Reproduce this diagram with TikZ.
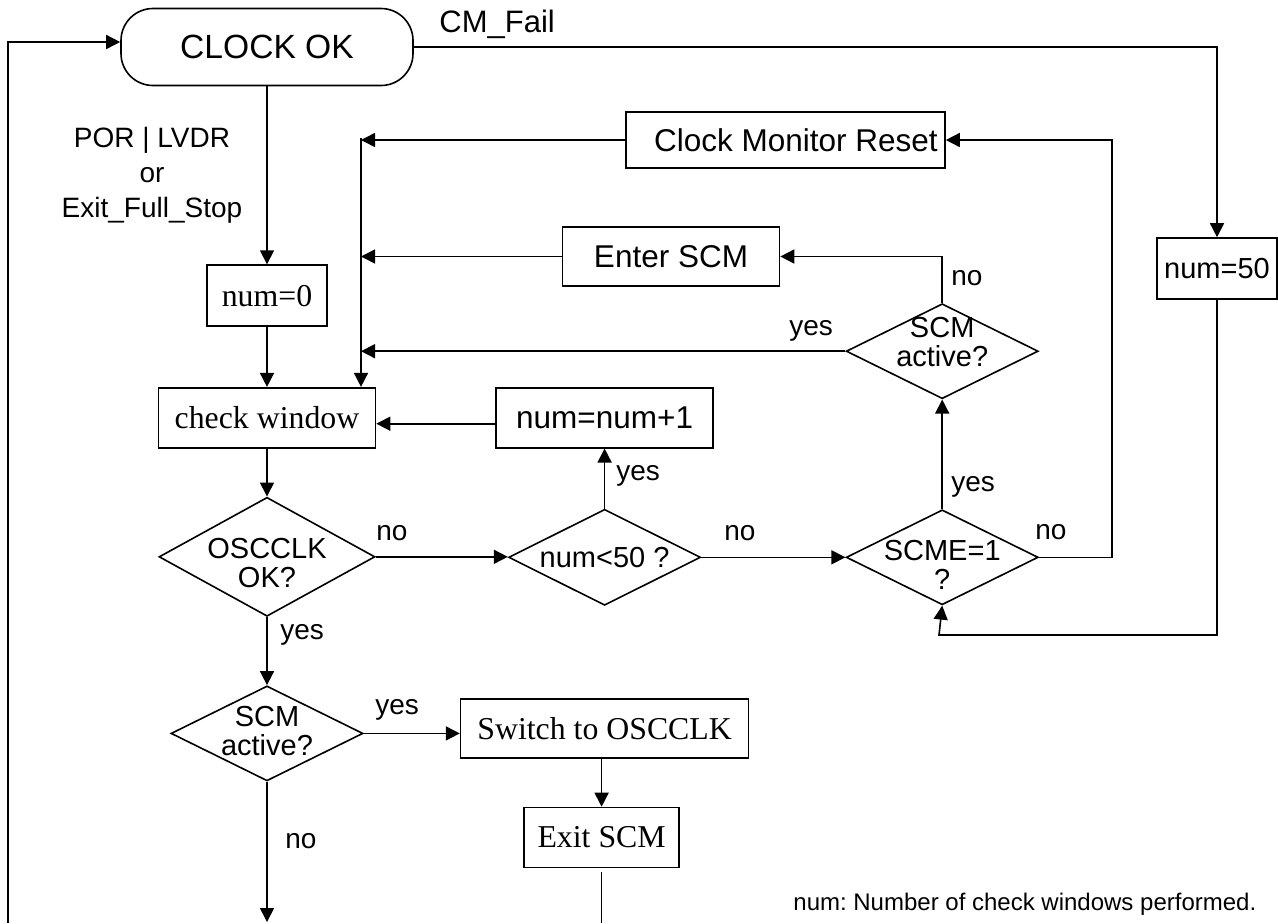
\documentclass[tikz,border=0pt]{standalone}
\usepackage{fontspec}
\setmainfont{Liberation Serif}
\setsansfont{Liberation Sans}
\usetikzlibrary{arrows.meta,positioning,shapes.geometric}

\begin{document}
\begin{tikzpicture}[x=.5pt, y=-.5pt,
    term/.style={draw, line width=.8pt, rounded corners=16pt, minimum width=146pt,
      minimum height=38.5pt, inner sep=0pt, font=\sffamily\fontsize{16.8}{18}\selectfont},
    sbox/.style={draw, line width=.8pt, inner sep=2pt, minimum width=108.5pt,
      minimum height=30pt, font=\sffamily\fontsize{15.75}{18}\selectfont},
    rbox/.style={sbox, font=\rmfamily\fontsize{15.9}{18}\selectfont},
    decision/.style={diamond, draw, line width=.8pt, inner sep=0pt,
      minimum width=96pt, minimum height=47.5pt},
    dtxt/.style={align=center, inner sep=0pt, font=\sffamily\fontsize{14.5}{14.5}\selectfont},
    lbl/.style={anchor=base west, inner sep=0pt, font=\sffamily\fontsize{14}{16}\selectfont},
    arrow/.style={-{Triangle[length=7pt, width=7pt]}, line width=.8pt},
    link/.style={line width=.8pt}
  ]
  \useasboundingbox (0,0) rectangle (1278,923);

  % main column
  \node[term] (clock) at (267,47) {CLOCK OK};
  \node[rbox, minimum width=60pt, minimum height=30.5pt, below=89pt of clock] (num0) {num=0};
  \node[rbox, below=30pt of num0] (check) {check window};
  \node[decision, minimum width=108pt, minimum height=59.5pt, below=24pt of check,
    label={[dtxt, yshift=-3pt]center:OSCCLK\\OK?}] (osc) {};
  \node[decision, below=34pt of osc, label={[dtxt, yshift=1pt]center:SCM\\active?}] (scm2) {};

  % retry loop
  \node[sbox, right=59.5pt of check] (inc) {num=num+1};
  \node[decision, minimum height=48pt, below=30pt of inc, label={[dtxt]center:num<50 ?}] (lt50) {};
  \node[decision, right=72pt of lt50, label={[dtxt, yshift=-4pt]center:SCME=1\\?}] (scme) {};
  \node[decision, above=54.75pt of scme, label={[dtxt, yshift=4.5pt]center:SCM\\active?}] (scm1) {};
  \node[sbox, minimum height=29.5pt] (enter) at (671,256.5) {Enter SCM};
  \node[sbox, minimum width=159.5pt, minimum height=28pt] (cmr) at (785.5,140) {\hspace*{10.5pt}Clock Monitor Reset};
  \node[sbox, minimum width=60pt, minimum height=30.5pt, font=\sffamily\fontsize{14.5}{16}\selectfont] (num50) at (1217,268.5) {num=50};

  % exit branch
  \node[rbox, minimum width=144pt, minimum height=29.5pt, right=48pt of scm2, yshift=2.5pt] (switch) {Switch to OSCCLK};
  \node[rbox, minimum width=77.5pt, below=24pt of switch, xshift=-1.5pt] (exitscm) {Exit SCM};

  \coordinate (mtop) at (361,138);
  \coordinate (loopstart) at (8,923);
  \coordinate (noend) at (267,922);
  \coordinate (exitend) at (exitscm.south |- loopstart);
  \coordinate (rloop) at (939,635);

  \draw[arrow] (loopstart) |- ([yshift=2.5pt]clock.west);
  \draw[arrow] (clock.east) -| (num50.north);
  \draw[arrow] (clock) -- (num0);
  \draw[arrow] (num0) -- (check);
  \draw[arrow] (check) -- (osc);
  \draw[arrow] (osc) -- (scm2);
  \draw[arrow] (scm2.south) -- (noend);
  \draw[arrow] (osc.east) -- (osc.east -| lt50.west);
  \draw[arrow] (lt50.north) -- (inc.south);
  \draw[arrow] ([yshift=-3pt]inc.west) -- ([yshift=-3pt]check.east);
  \draw[arrow] (lt50.east) -- (scme.west);
  \draw[arrow] (scme.north) -- (scm1.south);
  \draw[arrow] (scm1.north) |- (enter.east);
  \draw[arrow] (scme.east) -- ++(73,0) |- (cmr.east);
  \draw[arrow] (num50.south) |- (rloop) -- (scme.south);
  \draw[arrow] (mtop) -- (mtop |- check.north);
  \draw[arrow] (cmr.west) -- (cmr.west -| mtop);
  \draw[arrow] (enter.west) -- (enter.west -| mtop);
  \draw[arrow] (scm1.west) -- (scm1.west -| mtop);
  \draw[arrow] (scm2.east) -- (scm2.east -| switch.west);
  \draw[arrow] (exitscm.north |- switch.south) -- (exitscm.north);
  \draw[link, shorten <=2pt] (exitscm.south) -- (exitend);

  % labels
  \node[lbl, font=\sffamily\fontsize{15.5}{18}\selectfont] (cmfail) at (439,32) {CM\_Fail};
  \node[align=center, font=\sffamily\fontsize{14}{17.5}\selectfont] (porlbl) at (152,175) {POR | LVDR\\or\\Exit\_Full\_Stop};
  \foreach \nm/\px/\py/\txt in {yup/789/335/yes, nup/951/285/no, yinc/616/480/yes,
      nosc/376/540/no, nlt/724/540/no, yscme/951/491/yes, nscme/1035/539/no,
      yosc/280/639/yes, yscm/375/714/yes, nscm/285/848/no}
    \node[lbl] (\nm) at (\px,\py) {\txt};
  \node[lbl, font=\sffamily\fontsize{12}{14}\selectfont] (note) at (793,910) {num:\ Number of check windows performed.};
\end{tikzpicture}
\end{document}
